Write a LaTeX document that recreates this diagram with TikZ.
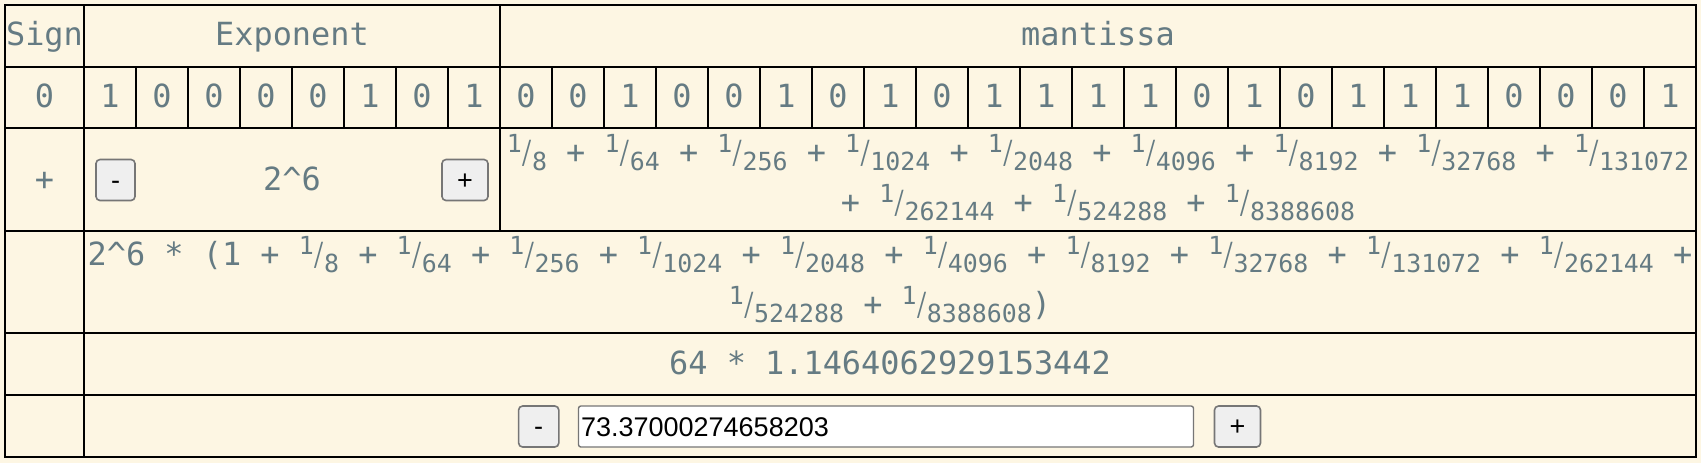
\documentclass[tikz,border=0pt]{standalone}
\usepackage{fontspec}
\usepackage{graphicx}
\usepackage{xcolor}
\usepackage{tikz}

\newfontfamily\cellfam{DejaVu Sans Mono}
\newfontfamily\btnfam{Liberation Sans}
\newcommand{\cellfont}{\cellfam\fontsize{15.95pt}{19pt}\selectfont}
\newcommand{\fracfont}{\fontsize{12.45pt}{15pt}\selectfont}
\newcommand{\btnfont}{\btnfam\fontsize{13.5pt}{16pt}\selectfont}
\newcommand{\onefrac}[1]{\raisebox{5.5pt}{\fracfont 1}\makebox[5.1pt]{\scalebox{0.6}[1]{/}}\raisebox{-3.35pt}{\fracfont #1}}

\definecolor{paper}{HTML}{FDF6E3}
\definecolor{txt}{HTML}{657B83}
\definecolor{btnfill}{HTML}{EFEFEF}
\definecolor{btnline}{HTML}{767676}

\begin{document}
\begin{tikzpicture}[x=0.5pt,y=-0.5pt,
  grid/.style={line width=1pt,black},
  lbl/.style={text=txt,font=\cellfont,inner sep=0pt,anchor=base},
  btn/.style={fill=btnfill,draw=btnline,line width=0.8pt,rounded corners=2pt,font=\btnfont,inner sep=0pt,text height=9pt,text depth=0pt,minimum height=20.5pt},
  field/.style={fill=white,draw=btnline,line width=0.7pt,rounded corners=1.2pt,inner sep=0pt,minimum height=20.5pt}]

\fill[paper] (0,0) rectangle (1701,463);

\node[coordinate] (v0) at (5,5) {};
\node[coordinate] (v1) at (1696,457) {};

\draw[grid] (v0) rectangle (v1);
\draw[grid] (5,66.7) -- (1696,66.7);
\draw[grid] (5,128.3) -- (1696,128.3);
\draw[grid] (5,230.7) -- (1696,230.7);
\draw[grid] (5,333) -- (1696,333);
\draw[grid] (5,395) -- (1696,395);
\draw[grid] (84,5) -- (84,457);
\draw[grid] (500,5) -- (500,230.7);
\foreach \k in {1,...,30}
  \draw[grid] (84+52*\k,66.7) -- (84+52*\k,128.3);

\node[lbl] (sign) at (44.5,45.7) {Sign};
\node[lbl] (expo) at (292,45.7) {Exponent};
\node[lbl] (mant) at (1098,45.7) {mantissa};

\node[lbl] (b0) at (44.5,107.7) {0};
\foreach \b [count=\i] in {1,0,0,0,0,1,0,1,0,0,1,0,0,1,0,1,0,1,1,1,1,0,1,0,1,1,1,0,0,0,1}
  \node[lbl] (b\i) at (58+52*\i,107.7) {\b};

\node[lbl] (plus) at (44.5,190.6) {+};
\node[lbl] (pow) at (292,190.6) {2\textasciicircum 6};
\node[btn,minimum width=19.5pt] (expdown) at (115.5,180) {-};
\node[btn,minimum width=23pt] (expup) at (465,180) {+};

\node[lbl] (sum1) at (1098,163.3) {\onefrac{8} + \onefrac{64} + \onefrac{256} + \onefrac{1024} + \onefrac{2048} + \onefrac{4096} + \onefrac{8192} + \onefrac{32768} + \onefrac{131072}};
\node[lbl] (sum2) at (1098,213.3) {+ \onefrac{262144} + \onefrac{524288} + \onefrac{8388608}};

\node[lbl] (prod1) at (890,265.7) {2\textasciicircum 6 * (1 + \onefrac{8} + \onefrac{64} + \onefrac{256} + \onefrac{1024} + \onefrac{2048} + \onefrac{4096} + \onefrac{8192} + \onefrac{32768} + \onefrac{131072} + \onefrac{262144} +};
\node[lbl] (prod2) at (890,315.7) {\onefrac{524288} + \onefrac{8388608})};

\node[lbl] (approx) at (890,374.3) {64 * 1.1464062929153442};

\node[btn,minimum width=20.1pt] (valdown) at (538.7,426.5) {-};
\node[field,minimum width=307.5pt] (valbox) at (886,426.5) {};
\node[anchor=base west,font=\btnfont,inner sep=0pt] (val) at (580.7,436.7) {73.37000274658203};
\node[btn,minimum width=23pt] (valup) at (1237.5,426.5) {+};

\end{tikzpicture}
\end{document}
